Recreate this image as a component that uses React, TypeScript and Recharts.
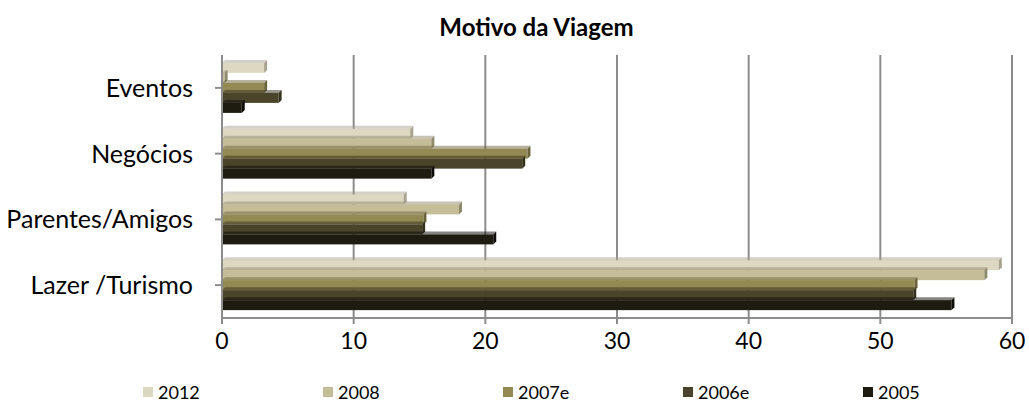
import React from 'react';
import {
  BarChart, Bar, XAxis, YAxis, CartesianGrid, Legend,
} from 'recharts';

const categories = ['Eventos', 'Negócios', 'Parentes/Amigos', 'Lazer /Turismo'];
const series = ['2012', '2008', '2007e', '2006e', '2005'];
const COLORS = ['#ddd8c2', '#c4bd97', '#938953', '#4a452a', '#1e1c11'];
const SIDES = ['#a8a38f', '#8f8a6c', '#6b643b', '#33301c', '#0d0c07'];

const v2012 = [3.2, 14.3, 13.8, 59.0];
const v2008 = [0.2, 15.9, 18.0, 57.9];
const v2007e = [3.2, 23.2, 15.3, 52.6];
const v2006e = [4.3, 22.8, 15.2, 52.5];
const v2005 = [1.5, 15.9, 20.6, 55.4];
const xTicks = [0, 10, 20, 30, 40, 50, 60];

const values = [v2012, v2008, v2007e, v2006e, v2005];

const data = categories.map((name, i) => {
  const row: Record<string, string | number> = { name };
  series.forEach((s, j) => { row[s] = values[j][i]; });
  return row;
});

const FONT = 'Lato, "Open Sans", sans-serif';

// bar with a thin bevel on the end and top, like the Excel 3D look
const Bar3D = (side: string) => (props: any) => {
  const { x, y, width, height, fill } = props;
  if (!width || width <= 0) return null;
  const d = 3;
  return (
    <g>
      <rect x={x} y={y} width={width} height={height} fill={fill} />
      <polygon
        points={`${x + width},${y} ${x + width + d},${y - d} ${x + width + d},${y + height - d} ${x + width},${y + height}`}
        fill={side}
      />
      <polygon
        points={`${x},${y} ${x + d},${y - d} ${x + width + d},${y - d} ${x + width},${y}`}
        fill={side}
        opacity={0.5}
      />
    </g>
  );
};

const LegendContent = () => (
  <div style={{ position: 'relative', height: 20, fontFamily: FONT, fontSize: 18 }}>
    {series.map((s, i) => (
      <div key={s} style={{ position: 'absolute', left: 143 + i * 180, top: 0, display: 'flex', alignItems: 'center' }}>
        <span style={{ width: 10, height: 10, background: COLORS[i], display: 'inline-block', marginRight: 5 }} />
        <span>{s}</span>
      </div>
    ))}
  </div>
);

export default function App() {
  return (
    <div style={{ position: 'absolute', left: 0, top: 0, background: '#fff' }}>
      <div style={{ position: 'absolute', top: 12, left: 22, width: 1029, textAlign: 'center', fontFamily: FONT, fontWeight: 700, fontSize: 24, zIndex: 1 }}>
        Motivo da Viagem
      </div>
      <BarChart
        width={1029}
        height={401}
        data={data}
        layout="vertical"
        margin={{ top: 55, right: 17, bottom: 0, left: 0 }}
        barCategoryGap="12%"
        barGap={0}
      >
        <CartesianGrid horizontal={false} stroke="#8c8c8c" strokeWidth={2} />
        <XAxis
          type="number"
          domain={[0, 60]}
          ticks={xTicks}
          tick={{ fill: '#000', fontSize: 23, fontFamily: FONT }}
          axisLine={{ stroke: '#8c8c8c', strokeWidth: 2 }}
          tickLine={{ stroke: '#8c8c8c', strokeWidth: 2 }}
          tickSize={6}
          tickMargin={9}
          height={63}
        />
        <YAxis
          type="category"
          dataKey="name"
          width={222}
          tick={{ fill: '#000', fontSize: 25, fontFamily: FONT }}
          axisLine={{ stroke: '#8c8c8c', strokeWidth: 2 }}
          tickLine={{ stroke: '#8c8c8c', strokeWidth: 2 }}
          tickSize={7}
          tickMargin={22}
        />
        <Legend verticalAlign="bottom" content={<LegendContent />} />
        {series.map((s, i) => (
          <Bar key={s} dataKey={s} fill={COLORS[i]} shape={Bar3D(SIDES[i])} isAnimationActive={false} />
        ))}
      </BarChart>
    </div>
  );
}
